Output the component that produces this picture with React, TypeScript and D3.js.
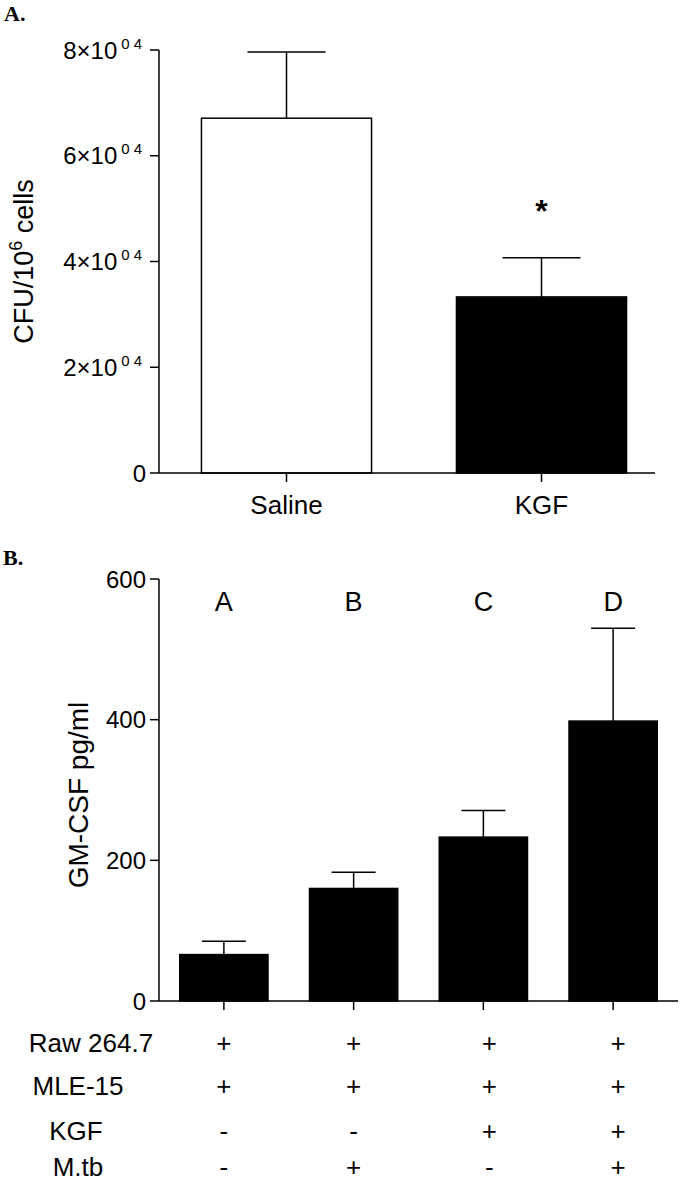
import React from "react";
import * as d3 from "d3";

// ---------- Data ----------
const panelACategories = ["Saline", "KGF"];
const panelAMeans = [67100, 33300];
const panelAErrors = [12500, 7400];
const panelATicks = [0, 20000, 40000, 60000, 80000];

const panelBGroups = ["A", "B", "C", "D"];
const panelBMeans = [66, 160, 233, 398];
const panelBErrors = [19, 23, 38, 132];
const panelBTicks = [0, 200, 400, 600];

const tableRowLabels = ["Raw 264.7", "MLE-15", "KGF", "M.tb"];
const rowRaw = ["+", "+", "+", "+"];
const rowMLE = ["+", "+", "+", "+"];
const rowKGF = ["-", "-", "+", "+"];
const rowMtb = ["-", "+", "-", "+"];
const tableRows = [rowRaw, rowMLE, rowKGF, rowMtb];

// ---------- Layout ----------
const FONT = "'Liberation Sans', Arial, Helvetica, sans-serif";
const SERIF = "'Liberation Serif', 'Times New Roman', serif";
const AXIS_X = 159;

// Panel A
const aTop = 50;
const aBottom = 473;
const aXEnd = 655;
const yA = d3.scaleLinear().domain([0, 80000]).range([aBottom, aTop]);
const xA = d3.scaleBand().domain(panelACategories).range([159, 669]).paddingInner(0.333).paddingOuter(0.1665);
const aFills = ["#ffffff", "#000000"];
const aCap = 78;

// Panel B
const bTop = 579;
const bBottom = 1001;
const bXEnd = 678;
const yB = d3.scaleLinear().domain([0, 600]).range([bBottom, bTop]);
const xB = d3.scaleBand().domain(panelBGroups).range([159, 678]).paddingInner(0.32).paddingOuter(0.16);
const bCap = 44;

const tableBaselines = [1052, 1095, 1140, 1176];
const tableLabelX = [91, 78, 76, 78];
const tableColShift = [0, 0, 6, 5];

const tickLen = 9;

function formatA(v: number) {
  if (v === 0) return null;
  return String(v / 10000);
}

export default function App() {
  return (
    <svg
      width={680}
      height={1182}
      viewBox="0 0 680 1182"
      style={{ position: "absolute", left: 0, top: 0, background: "#fff" }}
    >
      <rect x={0} y={0} width={680} height={1182} fill="#fff" />
      {/* ===== Panel A ===== */}
      <text x={4} y={21} fontFamily={SERIF} fontWeight="bold" fontSize={22}>
        A.
      </text>
      {panelACategories.map((c, i) => {
        const x = xA(c)!;
        const w = xA.bandwidth();
        const y = yA(panelAMeans[i]);
        const cx = x + w / 2;
        const ye = yA(panelAMeans[i] + panelAErrors[i]);
        return (
          <g key={c}>
            <line x1={cx} x2={cx} y1={y} y2={ye} stroke="#000" strokeWidth={1.5} />
            <line x1={cx - aCap / 2} x2={cx + aCap / 2} y1={ye} y2={ye} stroke="#000" strokeWidth={1.5} />
            <rect x={x} y={y} width={w} height={aBottom - y} fill={aFills[i]} stroke="#000" strokeWidth={1.5} />
          </g>
        );
      })}
      <text
        x={xA("KGF")! + xA.bandwidth() / 2}
        y={222}
        textAnchor="middle"
        fontFamily={FONT}
        fontWeight="bold"
        fontSize={32}
      >
        *
      </text>
      <line x1={AXIS_X} x2={AXIS_X} y1={aTop} y2={aBottom} stroke="#000" strokeWidth={1.5} />
      {panelATicks.map((t) => {
        const y = yA(t);
        const m = formatA(t);
        return (
          <g key={t}>
            <line x1={AXIS_X - tickLen} x2={AXIS_X} y1={y} y2={y} stroke="#000" strokeWidth={1.5} />
            {m === null ? (
              <text x={146} y={y + 8.5} textAnchor="end" fontFamily={FONT} fontSize={24}>
                0
              </text>
            ) : (
              <text x={146} y={y + 8.5} textAnchor="end" fontFamily={FONT} fontSize={24}>
                {m}×10
                <tspan fontSize={15} dx={4} dy={-10} letterSpacing={4}>
                  04
                </tspan>
              </text>
            )}
          </g>
        );
      })}
      <line x1={AXIS_X} x2={aXEnd} y1={aBottom} y2={aBottom} stroke="#000" strokeWidth={1.5} />
      {panelACategories.map((c) => {
        const cx = xA(c)! + xA.bandwidth() / 2;
        return (
          <g key={c}>
            <line x1={cx} x2={cx} y1={aBottom} y2={aBottom + tickLen} stroke="#000" strokeWidth={1.5} />
            <text x={cx} y={514} textAnchor="middle" fontFamily={FONT} fontSize={26}>
              {c}
            </text>
          </g>
        );
      })}
      <text
        transform={`translate(33, ${(aTop + aBottom) / 2}) rotate(-90)`}
        textAnchor="middle"
        fontFamily={FONT}
        fontSize={27}
      >
        CFU/10
        <tspan fontSize={18} dy={-11}>
          6
        </tspan>
        <tspan dy={11}> cells</tspan>
      </text>

      {/* ===== Panel B ===== */}
      <text x={3} y={565} fontFamily={SERIF} fontWeight="bold" fontSize={22}>
        B.
      </text>
      {panelBGroups.map((g, i) => {
        const x = xB(g)!;
        const w = xB.bandwidth();
        const y = yB(panelBMeans[i]);
        const cx = x + w / 2;
        const ye = yB(panelBMeans[i] + panelBErrors[i]);
        return (
          <g key={g}>
            <line x1={cx} x2={cx} y1={y} y2={ye} stroke="#000" strokeWidth={1.5} />
            <line x1={cx - bCap / 2} x2={cx + bCap / 2} y1={ye} y2={ye} stroke="#000" strokeWidth={1.5} />
            <rect x={x} y={y} width={w} height={bBottom - y} fill="#000" stroke="#000" strokeWidth={1.5} />
            <text x={cx} y={611} textAnchor="middle" fontFamily={FONT} fontSize={27}>
              {g}
            </text>
          </g>
        );
      })}
      <line x1={AXIS_X} x2={AXIS_X} y1={bTop} y2={bBottom} stroke="#000" strokeWidth={1.5} />
      {panelBTicks.map((t) => {
        const y = yB(t);
        return (
          <g key={t}>
            <line x1={AXIS_X - tickLen} x2={AXIS_X} y1={y} y2={y} stroke="#000" strokeWidth={1.5} />
            <text x={146} y={y + 8.5} textAnchor="end" fontFamily={FONT} fontSize={24}>
              {t}
            </text>
          </g>
        );
      })}
      <line x1={AXIS_X} x2={bXEnd} y1={bBottom} y2={bBottom} stroke="#000" strokeWidth={1.5} />
      {panelBGroups.map((g) => {
        const cx = xB(g)! + xB.bandwidth() / 2;
        return <line key={g} x1={cx} x2={cx} y1={bBottom} y2={bBottom + tickLen} stroke="#000" strokeWidth={1.5} />;
      })}
      <text
        transform={`translate(88, ${(bTop + bBottom) / 2 + 5}) rotate(-90)`}
        textAnchor="middle"
        fontFamily={FONT}
        fontSize={28}
      >
        GM-CSF pg/ml
      </text>
      {tableRowLabels.map((lab, r) => (
        <g key={lab}>
          <text x={tableLabelX[r]} y={tableBaselines[r]} textAnchor="middle" fontFamily={FONT} fontSize={26}>
            {lab}
          </text>
          {tableRows[r].map((s, c) => {
            const cx = xB(panelBGroups[c])! + xB.bandwidth() / 2 + tableColShift[c];
            return (
              <text key={c} x={cx} y={tableBaselines[r]} textAnchor="middle" fontFamily={FONT} fontSize={26}>
                {s}
              </text>
            );
          })}
        </g>
      ))}
    </svg>
  );
}
